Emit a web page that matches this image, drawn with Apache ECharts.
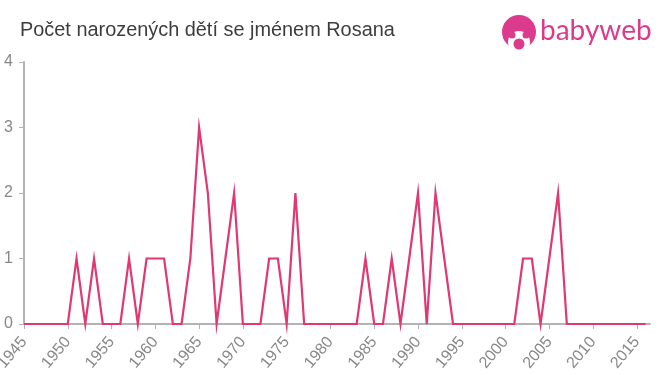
<!DOCTYPE html>
<html>
<head>
<meta charset="utf-8">
<title>Rosana</title>
<script src="https://cdn.jsdelivr.net/npm/echarts@6/dist/echarts.min.js"></script>
<style>
  html, body { margin: 0; padding: 0; background: #fff; }
  #chart { width: 660px; height: 375px; }
</style>
</head>
<body>
<div id="chart"></div>
<script>
var chartTitle = 'Počet narozených dětí se jménem Rosana'
var years = [1945, 1946, 1947, 1948, 1949, 1950, 1951, 1952, 1953, 1954, 1955, 1956, 1957, 1958, 1959, 1960, 1961, 1962, 1963, 1964, 1965, 1966, 1967, 1968, 1969, 1970, 1971, 1972, 1973, 1974, 1975, 1976, 1977, 1978, 1979, 1980, 1981, 1982, 1983, 1984, 1985, 1986, 1987, 1988, 1989, 1990, 1991, 1992, 1993, 1994, 1995, 1996, 1997, 1998, 1999, 2000, 2001, 2002, 2003, 2004, 2005, 2006, 2007, 2008, 2009, 2010, 2011, 2012, 2013, 2014, 2015, 2016]
var births = [0, 0, 0, 0, 0, 0, 1, 0, 1, 0, 0, 0, 1, 0, 1, 1, 1, 0, 0, 1, 3, 2, 0, 1, 2, 0, 0, 0, 1, 1, 0, 2, 0, 0, 0, 0, 0, 0, 0, 1, 0, 0, 1, 0, 1, 2, 0, 2, 1, 0, 0, 0, 0, 0, 0, 0, 0, 1, 1, 0, 1, 2, 0, 0, 0, 0, 0, 0, 0, 0, 0, 0]
var xTicks = [1945, 1950, 1955, 1960, 1965, 1970, 1975, 1980, 1985, 1990, 1995, 2000, 2005, 2010, 2015]

var chart = echarts.init(document.getElementById('chart'), null, { renderer: 'canvas' })
chart.setOption({
  animation: false,
  title: {
    text: chartTitle,
    left: 20,
    top: 21,
    padding: 0,
    textStyle: { fontSize: 19.9, fontWeight: 'normal', color: '#3d3d3d', fontFamily: 'Liberation Sans' }
  },
  grid: { left: 24, right: 10, top: 62, bottom: 51, outerBoundsMode: 'none' },
  xAxis: {
    type: 'value',
    min: 1945,
    max: 2016.5,
    splitLine: { show: false },
    axisLine: { lineStyle: { color: '#b3b3b3', width: 2 } },
    axisTick: { length: 5, customValues: xTicks, lineStyle: { color: '#b3b3b3', width: 1 } },
    axisLabel: {
      customValues: xTicks,
      rotate: 50,
      margin: 15,
      padding: [6, 0, 0, 0],
      color: '#888',
      fontSize: 16,
      fontFamily: 'Liberation Sans',
      formatter: function (v) { return String(v) }
    }
  },
  yAxis: {
    type: 'value',
    min: 0,
    max: 4,
    interval: 1,
    splitLine: { show: false },
    axisLine: { show: true, lineStyle: { color: '#b3b3b3', width: 2 } },
    axisTick: { show: true, length: 5, lineStyle: { color: '#b3b3b3', width: 1 } },
    axisLabel: { margin: 11, padding: [2, 0, 0, 0], color: '#888', fontSize: 16, fontFamily: 'Liberation Sans' }
  },
  series: [{
    type: 'line',
    data: years.map(function (y, i) { return [y, births[i]] }),
    symbol: 'none',
    clip: false,
    lineStyle: { color: '#e0386f', width: 2.2, join: 'miter', miterLimit: 10.1 }
  }],
  // babyweb logo
  graphic: [
    { type: 'circle', shape: { cx: 519, cy: 32, r: 17 }, style: { fill: '#dc3a8c' } },
    { type: 'circle', shape: { cx: 519, cy: 42, r: 11 }, style: { fill: '#fff' } },
    { type: 'circle', shape: { cx: 512, cy: 35, r: 3.5 }, style: { fill: '#dc3a8c' } },
    { type: 'circle', shape: { cx: 526, cy: 35, r: 3.5 }, style: { fill: '#dc3a8c' } },
    { type: 'circle', shape: { cx: 519, cy: 44, r: 5.5 }, style: { fill: '#dc3a8c' } },
    {
      type: 'text',
      left: 540,
      top: 17,
      style: { text: 'babyweb', fill: '#dc3a8c', fontSize: 28, fontFamily: 'Lato' }
    }
  ]
})
</script>
</body>
</html>
